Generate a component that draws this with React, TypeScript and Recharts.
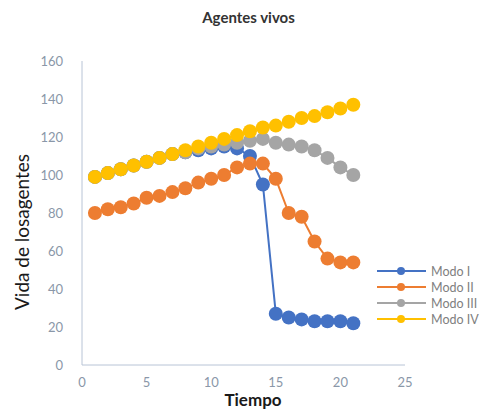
import { LineChart, Line, XAxis, YAxis, Label } from 'recharts'

const tiempo = [1, 2, 3, 4, 5, 6, 7, 8, 9, 10, 11, 12, 13, 14, 15, 16, 17, 18, 19, 20, 21]
const modoI = [99, 101, 103, 105, 107, 109, 111, 112, 113, 114, 115, 114, 110, 95, 27, 25, 24, 23, 23, 23, 22]
const modoII = [80, 82, 83, 85, 88, 89, 91, 93, 96, 98, 100, 104, 106, 106, 98, 80, 78, 65, 56, 54, 54]
const modoIII = [99, 101, 103, 105, 107, 109, 111, 112, 114, 115, 116, 117, 118, 119, 117, 116, 115, 113, 109, 104, 100]
const modoIV = [99, 101, 103, 105, 107, 109, 111, 113, 115, 117, 119, 121, 123, 125, 126, 128, 130, 131, 133, 135, 137]

const xTicks = [0, 5, 10, 15, 20, 25]
const yTicks = [0, 20, 40, 60, 80, 100, 120, 140, 160]

const series = [
  { key: 'modoI', name: 'Modo I', color: '#4472c4' },
  { key: 'modoII', name: 'Modo II', color: '#ed7d31' },
  { key: 'modoIII', name: 'Modo III', color: '#a5a5a5' },
  { key: 'modoIV', name: 'Modo IV', color: '#ffc000' },
]

const data = tiempo.map((t, i) => ({
  t,
  modoI: modoI[i],
  modoII: modoII[i],
  modoIII: modoIII[i],
  modoIV: modoIV[i],
}))

const FONT = 'Lato, "Open Sans", sans-serif'
const AXIS = '#b8c4d6'
const TICK = '#8a97a8'

// leyenda fuera del svg para que no le robe alto al gráfico
function Leyenda() {
  return (
    <div
      style={{
        position: 'absolute',
        left: 377,
        top: 263,
        fontFamily: FONT,
        fontSize: 12.5,
        color: '#808080',
      }}
    >
      {series.map((s) => (
        <div key={s.key} style={{ display: 'flex', alignItems: 'center', height: 16, whiteSpace: 'nowrap' }}>
          <svg width={50} height={10} style={{ marginRight: 4 }}>
            <line x1={0} y1={5} x2={49} y2={5} stroke={s.color} strokeWidth={2} />
            <circle cx={24} cy={5} r={4} fill={s.color} />
          </svg>
          <span>{s.name}</span>
        </div>
      ))}
    </div>
  )
}

export default function App() {
  return (
    <div style={{ position: 'absolute', left: 0, top: 0, width: 481, height: 409, background: '#fff', overflow: 'hidden' }}>
      <div
        style={{
          position: 'absolute',
          top: 8,
          left: 0,
          width: 497,
          textAlign: 'center',
          fontFamily: FONT,
          fontSize: 15,
          fontWeight: 'bold',
          color: '#333',
        }}
      >
        Agentes vivos
      </div>
      <LineChart
        width={481}
        height={409}
        data={data}
        margin={{ top: 61, right: 76, bottom: 14, left: 0 }}
      >
        <XAxis
          dataKey="t"
          type="number"
          domain={[0, 25]}
          ticks={xTicks}
          height={30}
          tickSize={0}
          tickMargin={13}
          stroke={AXIS}
          tick={{ fill: TICK, fontSize: 13, fontFamily: FONT }}
        >
          <Label
            content={() => (
              <text x={253} y={406} textAnchor="middle" fontFamily={FONT} fontSize={17} fontWeight="bold" fill="#1a1a1a">
                Tiempo
              </text>
            )}
          />
        </XAxis>
        <YAxis
          type="number"
          domain={[0, 160]}
          ticks={yTicks}
          width={82}
          tickSize={0}
          tickMargin={19}
          stroke={AXIS}
          tick={{ fill: TICK, fontSize: 13, fontFamily: FONT }}
        >
          <Label
            content={() => (
              <text
                x={21}
                y={232}
                transform="rotate(-90 21 232)"
                textAnchor="middle"
                dominantBaseline="central"
                fontFamily={FONT}
                fontSize={19}
                fill="#1a1a1a"
              >
                Vida de losagentes
              </text>
            )}
          />
        </YAxis>
        {series.map((s) => (
          <Line
            key={s.key}
            dataKey={s.key}
            name={s.name}
            stroke={s.color}
            strokeWidth={2}
            dot={{ r: 7, fill: s.color, stroke: s.color, strokeWidth: 0 }}
            isAnimationActive={false}
          />
        ))}
      </LineChart>
      <Leyenda />
    </div>
  )
}
